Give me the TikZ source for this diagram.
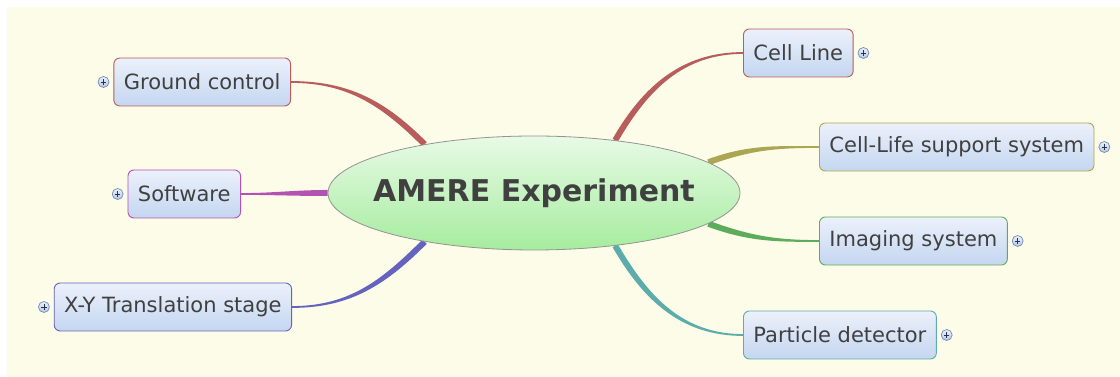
\documentclass[tikz,border=0pt]{standalone}
\usepackage{fontspec}
\setmainfont{DejaVu Sans}
\usepackage{tikz}
\usetikzlibrary{positioning,calc,shapes.geometric}

\definecolor{cream}{RGB}{253,252,232}
\definecolor{textgrey}{RGB}{64,64,64}
\definecolor{boxtop}{RGB}{236,241,251}
\definecolor{boxbot}{RGB}{196,214,240}
\definecolor{roottop}{RGB}{232,250,230}
\definecolor{rootbot}{RGB}{166,236,158}
\definecolor{redbr}{RGB}{184,92,92}
\definecolor{magbr}{RGB}{180,82,180}
\definecolor{bluebr}{RGB}{100,100,190}
\definecolor{olivebr}{RGB}{172,166,82}
\definecolor{greenbr}{RGB}{92,172,92}
\definecolor{tealbr}{RGB}{92,172,172}
\definecolor{plusline}{RGB}{112,140,184}
\definecolor{plusdark}{RGB}{40,50,80}

\pgfdeclarelayer{bg}
\pgfsetlayers{bg,main}

% tapered branch: colour, start, end, out angle, in angle
\newcommand{\branch}[5]{%
  \fill[#1] ($(#2)+(#4+90:3)$) to[out=#4,in=#5] ($(#3)+(#5-90:0.9)$)
    -- ($(#3)+(#5+90:0.9)$) to[out=#5,in=#4] ($(#2)+(#4-90:3)$) -- cycle;}

\begin{document}
\begin{tikzpicture}[x=1pt,y=1pt,
    topic/.style={rectangle, rounded corners=6pt, draw=#1, line width=0.9pt,
      top color=boxtop, bottom color=boxbot, minimum height=48pt,
      inner xsep=10pt, text=textgrey, font=\fontsize{21}{25}\selectfont},
    plusbtn/.style={circle, draw=plusline, line width=0.7pt, minimum size=11pt,
      inner sep=0pt, top color=boxtop, bottom color=boxbot!80!plusline,
      path picture={
        \draw[plusdark, line width=0.8pt]
          ([xshift=-2.6pt]path picture bounding box.center) -- ([xshift=2.6pt]path picture bounding box.center)
          ([yshift=-2.6pt]path picture bounding box.center) -- ([yshift=2.6pt]path picture bounding box.center);}}]
  %\draw [help lines] (0,0) grid[step=50] (1120,377);
  \useasboundingbox (0,0) rectangle (1120,377);

  \node[ellipse, draw=gray!85, line width=0.8pt, top color=roottop, bottom color=rootbot,
    minimum width=412, minimum height=114, inner sep=0pt] (root) at (534,184) {};
  \node[text=textgrey, font=\bfseries\fontsize{30}{36}\selectfont] (roottext) at (root) {AMERE Experiment};

  \node[topic=redbr, anchor=east] (gc) at (291,295) {Ground control};
  \node[topic=magbr, anchor=east] (sw) at (241,183) {Software};
  \node[topic=bluebr, anchor=east] (xy) at (292,70) {X-Y Translation stage};
  \node[topic=redbr, anchor=west] (cl) at (743,324) {Cell Line};
  \node[topic=olivebr, anchor=west] (cls) at (819,230) {Cell-Life support system};
  \node[topic=greenbr, anchor=west] (img) at (819,136) {Imaging system};
  \node[topic=tealbr, anchor=west] (pd) at (743,42) {Particle detector};

  \node[plusbtn, left=4pt of gc] (gcplus) {};
  \node[plusbtn, left=4pt of sw] (swplus) {};
  \node[plusbtn, left=4pt of xy] (xyplus) {};
  \node[plusbtn, right=4pt of cl] (clplus) {};
  \node[plusbtn, right=4pt of cls] (clsplus) {};
  \node[plusbtn, right=4pt of img] (imgplus) {};
  \node[plusbtn, right=4pt of pd] (pdplus) {};

  \begin{pgfonlayer}{bg}
    \fill[white] (0,0) rectangle (1120,377);
    \fill[cream] (7,0) rectangle (1120,370);
    \branch{redbr}{root.156}{gc.east}{135}{0}
    \branch{magbr}{root.180}{sw.east}{180}{0}
    \branch{bluebr}{root.204}{xy.east}{-135}{0}
    \branch{redbr}{root.33}{cl.west}{60}{180}
    \branch{olivebr}{root.10}{cls.west}{20}{180}
    \branch{greenbr}{root.-10}{img.west}{-20}{180}
    \branch{tealbr}{root.-33}{pd.west}{-60}{180}
  \end{pgfonlayer}
\end{tikzpicture}
\end{document}
